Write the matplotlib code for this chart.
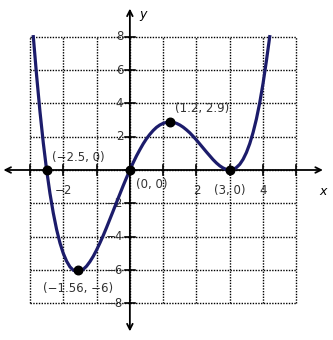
import matplotlib
matplotlib.use('Agg')
import matplotlib.pyplot as plt

# curve points
curve_x = [-2.9, -2.85, -2.8, -2.7, -2.6, -2.5, -2.4, -2.3, -2.2, -2.1,
           -2.0, -1.9, -1.8, -1.7, -1.6, -1.5, -1.4, -1.3, -1.2, -1.1,
           -1.0, -0.9, -0.8, -0.7, -0.6, -0.5, -0.4, -0.3, -0.2, -0.1,
           0.0, 0.1, 0.2, 0.3, 0.4, 0.5, 0.6, 0.7, 0.8, 0.9,
           1.0, 1.1, 1.2, 1.3, 1.4, 1.5, 1.6, 1.7, 1.8, 1.9,
           2.0, 2.1, 2.2, 2.3, 2.4, 2.5, 2.6, 2.7, 2.8, 2.9,
           3.0, 3.1, 3.2, 3.3, 3.4, 3.5, 3.6, 3.7, 3.8, 3.9,
           4.0, 4.1, 4.2]
curve_y = [8.0, 6.83, 5.65, 3.51, 1.63, 0.0, -1.40, -2.58, -3.57, -4.37,
           -5.0, -5.47, -5.81, -6.01, -6.09, -6.08, -5.96, -5.77, -5.50, -5.18,
           -4.8, -4.38, -3.93, -3.45, -2.95, -2.45, -1.94, -1.44, -0.94, -0.46,
           0.0, 0.44, 0.85, 1.22, 1.57, 1.88, 2.14, 2.37, 2.56, 2.70,
           2.80, 2.86, 2.88, 2.86, 2.80, 2.70, 2.57, 2.41, 2.23, 2.02,
           1.80, 1.56, 1.32, 1.08, 0.85, 0.62, 0.42, 0.25, 0.12, 0.03,
           0.0, 0.03, 0.15, 0.34, 0.64, 1.05, 1.58, 2.25, 3.06, 4.04,
           5.2, 6.55, 8.0]

# labelled points
pt_x = [-2.5, -1.56, 0, 1.2, 3]
pt_y = [0, -6, 0, 2.9, 0]
pt_labels = ['(\u22122.5, 0)', '(\u22121.56, \u22126)', '(0, 0)', '(1.2, 2.9)', '(3, 0)']

xticks = [-2, 2, 4]
yticks = [8, 6, 4, 2, -2, -4, -6, -8]

fig = plt.figure(figsize=(3.33, 3.40), dpi=100)
ax = fig.add_axes([0, 0, 1, 1])
ax.set_xlim(-3.9, 6.1)
ax.set_ylim(-10.2, 10.2)
ax.axis('off')

# dotted grid
for gx in range(-3, 6):
    ax.plot([gx, gx], [-8, 8], color='black', linestyle=(0, (1, 1)), lw=1.0, zorder=1)
for gy in range(-8, 9, 2):
    ax.plot([-3, 5], [gy, gy], color='black', linestyle=(0, (1, 1)), lw=1.0, zorder=1)

# axes with arrows
arrow = dict(arrowstyle='<->', color='black', lw=1.3, mutation_scale=10)
ax.annotate('', xy=(-3.88, 0), xytext=(5.88, 0), arrowprops=arrow, zorder=2)
ax.annotate('', xy=(0, -9.85), xytext=(0, 9.85), arrowprops=arrow, zorder=2)

# tick marks
for gx in range(-3, 6):
    ax.plot([gx, gx], [-0.3, 0.3], color='black', lw=1.2, zorder=2)
for gy in range(-8, 9, 2):
    ax.plot([-0.15, 0.15], [gy, gy], color='black', lw=1.2, zorder=2)

for t in xticks:
    ax.text(t, -1.25, str(t).replace('-', '\u2212'), ha='center', va='center',
            fontsize=8.5, color='#333333')
for t in yticks:
    ax.text(-0.2, t, str(t).replace('-', '\u2212'), ha='right', va='center',
            fontsize=8.5, color='#333333')

ax.text(5.8, -1.3, 'x', style='italic', fontsize=9, ha='center', va='center')
ax.text(0.4, 9.35, 'y', style='italic', fontsize=9, ha='center', va='center')

# curve and points
ax.plot(curve_x, curve_y, color='#1c1c6b', lw=2.3, zorder=3)
ax.scatter(pt_x, pt_y, s=38, color='black', zorder=4)

label_pos = [(-2.34, 0.75), (-2.62, -7.1), (0.18, -0.85), (1.35, 3.7), (2.52, -1.25)]
for lab, (lx, ly) in zip(pt_labels, label_pos):
    ax.text(lx, ly, lab, ha='left', va='center', fontsize=8.5, color='#333333')

fig.savefig('out.png', dpi=100)
